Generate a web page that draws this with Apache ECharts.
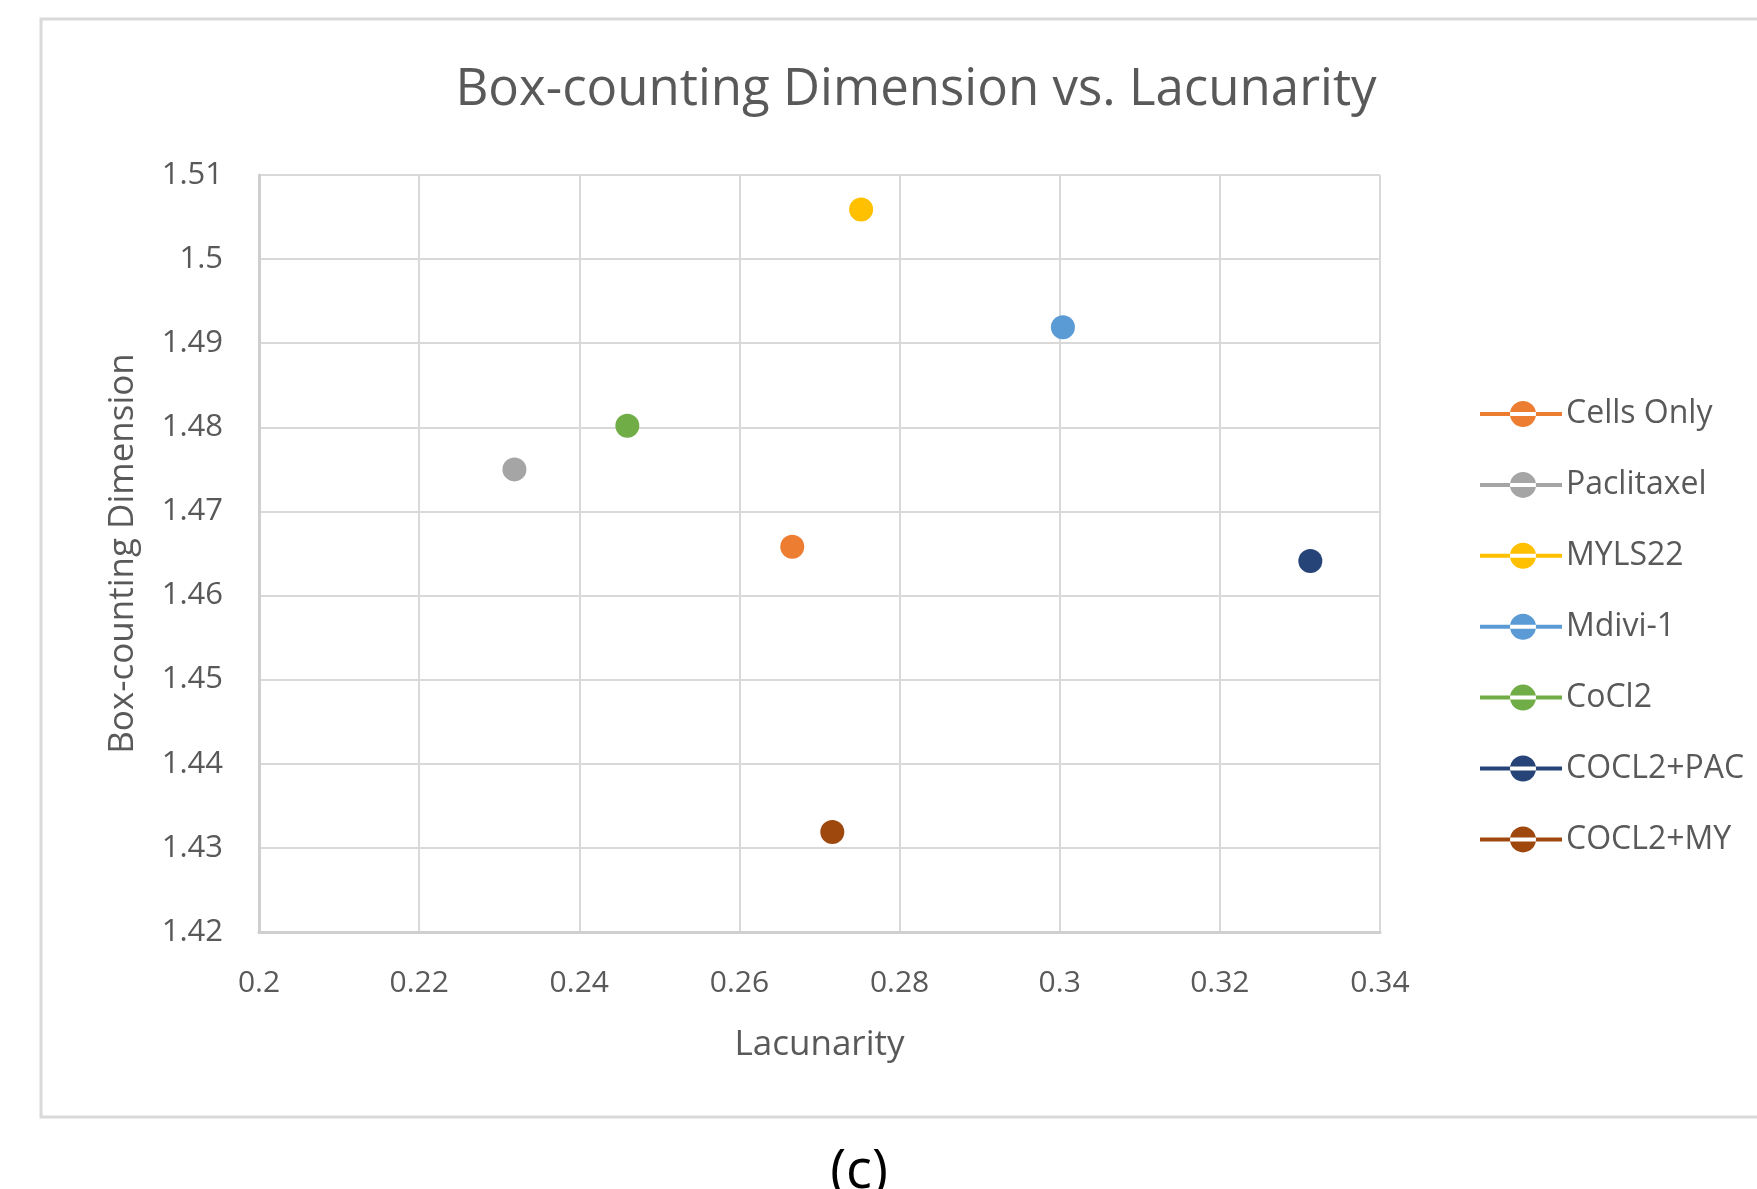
<!DOCTYPE html>
<html>
<head>
<meta charset="utf-8">
<script src="https://cdn.jsdelivr.net/npm/echarts@6/dist/echarts.min.js"></script>
<style>
html,body{margin:0;padding:0;background:#fff;}
#c{width:1757px;height:1189px;}
</style>
</head>
<body>
<div id="c"></div>
<script>
const seriesNames = ['Cells Only','Paclitaxel','MYLS22','Mdivi-1','CoCl2','COCL2+PAC','COCL2+MY'];
const lacunarity = [0.2666, 0.2319, 0.2752, 0.3004, 0.2460, 0.3313, 0.2716];
const boxDim = [1.4658, 1.4750, 1.5059, 1.4919, 1.4802, 1.4641, 1.4319];
const colors = ['#ED7D31','#A5A5A5','#FFC000','#5B9BD5','#70AD47','#264478','#9E480E'];
const xTicks = [0.2,0.22,0.24,0.26,0.28,0.3,0.32,0.34];
const yTicks = [1.42,1.43,1.44,1.45,1.46,1.47,1.48,1.49,1.5,1.51];

const FONT = 'Open Sans';
const TXT = '#595959';
const legendIcon = 'path://M0,11 L82,11 L82,15 L0,15 Z M30,13 A13,13 0 1,0 56,13 A13,13 0 1,0 30,13 Z';

const chart = echarts.init(document.getElementById('c'));
chart.setOption({
  animation:false,
  backgroundColor:'#fff',
  title:{
    text:'Box-counting Dimension vs. Lacunarity',
    left:911, top:60, textAlign:'center',
    textStyle:{fontFamily:FONT,fontSize:51,fontWeight:'normal',color:TXT}
  },
  grid:{left:259, top:175, width:1121, height:757},
  xAxis:{
    type:'value', min:0.2, max:0.34, interval:0.02,
    name:'Lacunarity', nameLocation:'middle', nameGap:96,
    nameTextStyle:{fontFamily:FONT,fontSize:35,color:TXT},
    axisLine:{show:true,lineStyle:{color:'#cfcfcf',width:3}},
    axisTick:{show:false},
    axisLabel:{margin:36,fontFamily:FONT,fontSize:30,color:TXT,
      formatter:v=>{const t=xTicks.find(x=>Math.abs(x-v)<1e-9);return t===undefined?'':String(t);}},
    splitLine:{show:true,lineStyle:{color:'#d9d9d9',width:2}}
  },
  yAxis:{
    type:'value', min:1.42, max:1.51, interval:0.01,
    name:'Box-counting Dimension', nameLocation:'middle', nameGap:118, nameRotate:90,
    nameTextStyle:{fontFamily:FONT,fontSize:35,color:TXT},
    axisLine:{show:true,lineStyle:{color:'#cfcfcf',width:3}},
    axisTick:{show:false},
    axisLabel:{margin:36,fontFamily:FONT,fontSize:31,color:TXT,
      formatter:v=>{const t=yTicks.find(y=>Math.abs(y-v)<1e-9);return t===undefined?'':String(t);}},
    splitLine:{show:true,lineStyle:{color:'#d9d9d9',width:2}}
  },
  legend:{
    orient:'vertical', left:1475, top:393,
    itemWidth:84, itemHeight:26, itemGap:38.9,
    icon:legendIcon,
    textStyle:{fontFamily:FONT,fontSize:32,color:TXT,padding:[0,0,0,-2]},
    data:seriesNames
  },
  graphic:[
    {type:'rect',silent:true,z:-10,shape:{x:41,y:19,width:1760,height:1098},
     style:{fill:'none',stroke:'#d9d9d9',lineWidth:3}},
    {type:'text',silent:true,x:859,y:1146,
     style:{text:'(c)',fontFamily:FONT,fontSize:54,fill:'#000',textAlign:'center',textVerticalAlign:'top'}}
  ],
  series: seriesNames.map((n,i)=>({
    name:n, type:'scatter', symbol:'circle', symbolSize:24,
    itemStyle:{color:colors[i],opacity:1},
    data:[[lacunarity[i], boxDim[i]]]
  }))
});
</script>
</body>
</html>
